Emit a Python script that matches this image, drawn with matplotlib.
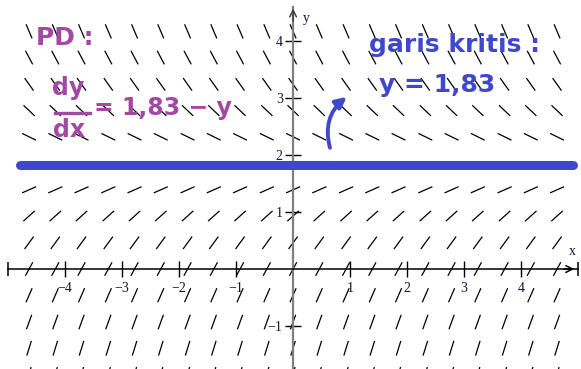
import numpy as np
import matplotlib
matplotlib.use("Agg")
from matplotlib import pyplot as plt
from matplotlib.collections import LineCollection

# slope field for the ODE  dy/dx = 1.83 - y
y_crit = 1.83
x_grid = [-4.63, -4.17, -3.71, -3.24, -2.78, -2.32, -1.85, -1.39, -0.93, -0.46,
          0.0, 0.46, 0.93, 1.39, 1.85, 2.32, 2.78, 3.24, 3.71, 4.17, 4.63]
y_grid = [-1.85, -1.39, -0.93, -0.46, 0.0, 0.46, 0.93, 1.39, 1.85,
          2.32, 2.78, 3.24, 3.71, 4.17]
x_ticks = [-4, -3, -2, -1, 1, 2, 3, 4]
x_labels = ["\u22124", "\u22123", "\u22122", "\u22121", "1", "2", "3", "4"]
y_ticks = [-1, 1, 2, 3, 4]
y_labels = ["\u22121", "1", "2", "3", "4"]

purple = "#a349a4"
blue = "#3f48cc"

fig = plt.figure(figsize=(5.81, 3.69), dpi=100)
ax = fig.add_axes([0, 0, 1, 1])
ax.set_xlim(-5.14, 5.05)
ax.set_ylim(-1.754, 4.72)

# short direction segments, same length everywhere
seg_len = 0.27
segs = []
for yy in y_grid:
    for xx in x_grid:
        th = np.arctan(y_crit - yy)
        dx = 0.5 * seg_len * np.cos(th)
        dy = 0.5 * seg_len * np.sin(th)
        segs.append([(xx - dx, yy - dy), (xx + dx, yy + dy)])
ax.add_collection(LineCollection(segs, colors="black", linewidths=0.9, zorder=2))

# axes through the origin
for s in ["top", "right"]:
    ax.spines[s].set_visible(False)
ax.spines["bottom"].set_position(("data", 0))
ax.spines["left"].set_position(("data", 0))
ax.spines["bottom"].set_bounds(-5, 5)
ax.spines["left"].set_bounds(-1.8, 4.6)
ax.spines["bottom"].set_linewidth(1.1)
ax.spines["left"].set_color("#808080")
ax.spines["left"].set_linewidth(1.6)

ax.set_xticks(x_ticks, x_labels)
ax.set_yticks(y_ticks, y_labels)
ax.tick_params(direction="inout", length=11, width=1.0, color="black",
               labelsize=10, labelcolor="#14143c")
ax.tick_params(axis="x", pad=4)
ax.tick_params(axis="y", pad=2)
for lab in ax.get_xticklabels() + ax.get_yticklabels():
    lab.set_family("Liberation Serif")

# arrow heads and end bars
ax.annotate("", xy=(4.98, 0), xytext=(4.7, 0),
            arrowprops=dict(arrowstyle="->", lw=1.1, mutation_scale=12))
ax.annotate("", xy=(0, 4.62), xytext=(0, 4.3),
            arrowprops=dict(arrowstyle="->", lw=1.1, color="#404040", mutation_scale=12))
ax.plot([-5, 5], [0, 0], "|", color="black", ms=10, mew=1.1, clip_on=False)
ax.text(4.9, 0.3, "x", family="Liberation Serif", fontsize=10, color="#14143c",
        ha="center", va="center")
ax.text(0.23, 4.4, "y", family="Liberation Serif", fontsize=10, color="#14143c",
        ha="center", va="center")

# critical line
ax.plot([-4.79, 4.91], [y_crit, y_crit], color=blue, lw=6.5,
        solid_capstyle="round", zorder=3)

# handwritten notes
note = dict(fontweight="bold", ha="center", va="center")
ax.text(-4.0, 4.05, "PD :", color=purple, fontsize=18, **note)
ax.text(-3.95, 3.18, "dy", color=purple, fontsize=17, **note)
ax.plot([-4.18, -3.56], [2.74, 2.74], color=purple, lw=2.4)
ax.text(-3.93, 2.44, "dx", color=purple, fontsize=17, **note)
ax.text(-2.28, 2.82, "= 1,83 \u2212 y", color=purple, fontsize=17, **note)

ax.text(2.84, 3.93, "garis kritis :", color=blue, fontsize=18, **note)
ax.text(2.53, 3.23, "y = 1,83", color=blue, fontsize=18, **note)
ax.annotate("", xy=(0.98, 3.05), xytext=(0.66, 2.08),
            arrowprops=dict(arrowstyle="-|>", lw=2.8, color=blue,
                            mutation_scale=16,
                            connectionstyle="arc3,rad=-0.35"))

fig.savefig("out.png", dpi=100)
